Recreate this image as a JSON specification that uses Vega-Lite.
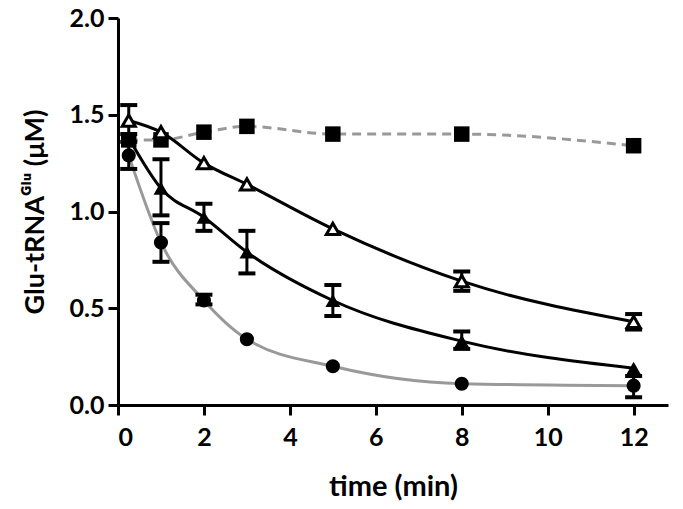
{
  "$schema": "https://vega.github.io/schema/vega-lite/v6.json",
  "width": 550,
  "height": 387,
  "autosize": {"type": "none"},
  "padding": {"left": 118, "top": 18, "right": 15, "bottom": 104},
  "config": {
    "view": {"stroke": null},
    "font": "Lato",
    "axis": {
      "domainColor": "black", "domainWidth": 3, "tickColor": "black", "tickWidth": 3, "tickSize": 10,
      "labelFont": "Lato", "labelFontWeight": "bold", "labelFontSize": 25, "labelColor": "black",
      "titleFont": "Lato", "titleFontWeight": "bold", "titleFontSize": 28, "titleColor": "black",
      "grid": false
    }
  },
  "data": {
    "values": [
      {"s": "sq", "t": 0.25, "v": 1.37},
      {"s": "sq", "t": 1, "v": 1.37},
      {"s": "sq", "t": 2, "v": 1.41},
      {"s": "sq", "t": 3, "v": 1.44},
      {"s": "sq", "t": 5, "v": 1.40},
      {"s": "sq", "t": 8, "v": 1.40},
      {"s": "sq", "t": 12, "v": 1.34},
      {"s": "open", "t": 0.25, "v": 1.47, "lo": 1.40, "hi": 1.55},
      {"s": "open", "t": 1, "v": 1.41},
      {"s": "open", "t": 2, "v": 1.25},
      {"s": "open", "t": 3, "v": 1.14},
      {"s": "open", "t": 5, "v": 0.91},
      {"s": "open", "t": 8, "v": 0.64, "lo": 0.59, "hi": 0.69},
      {"s": "open", "t": 12, "v": 0.43, "lo": 0.39, "hi": 0.47},
      {"s": "tri", "t": 0.25, "v": 1.38},
      {"s": "tri", "t": 1, "v": 1.12, "lo": 0.98, "hi": 1.27},
      {"s": "tri", "t": 2, "v": 0.97, "lo": 0.90, "hi": 1.04},
      {"s": "tri", "t": 3, "v": 0.79, "lo": 0.68, "hi": 0.90},
      {"s": "tri", "t": 5, "v": 0.54, "lo": 0.46, "hi": 0.62},
      {"s": "tri", "t": 8, "v": 0.33, "lo": 0.29, "hi": 0.38},
      {"s": "tri", "t": 12, "v": 0.19},
      {"s": "circ", "t": 0.25, "v": 1.29, "lo": 1.22, "hi": 1.36},
      {"s": "circ", "t": 1, "v": 0.84, "lo": 0.74, "hi": 0.94},
      {"s": "circ", "t": 2, "v": 0.54, "lo": 0.52, "hi": 0.57},
      {"s": "circ", "t": 3, "v": 0.34},
      {"s": "circ", "t": 5, "v": 0.20},
      {"s": "circ", "t": 8, "v": 0.11},
      {"s": "circ", "t": 12, "v": 0.10, "lo": 0.04, "hi": 0.15}
    ]
  },
  "encoding": {
    "x": {"field": "t", "type": "quantitative", "scale": {"domain": [0, 12.8], "nice": false},
      "axis": {"values": [0, 2, 4, 6, 8, 10, 12], "title": "time (min)", "titleFontSize": 29, "labelPadding": 10, "titlePadding": 22}},
    "y": {"field": "v", "type": "quantitative", "scale": {"domain": [0, 2], "nice": false},
      "axis": {"values": [0, 0.5, 1, 1.5, 2], "format": ".1f", "title": "Glu-tRNAᴳˡᵘ (μM)", "titleFontSize": 27, "labelPadding": 4, "titlePadding": 20}}
  },
  "layer": [
    {"transform": [{"filter": "datum.s == 'sq'"}],
     "mark": {"type": "line", "interpolate": "monotone", "color": "#999999", "strokeWidth": 3, "strokeDash": [9, 6]}},
    {"transform": [{"filter": "datum.s == 'circ'"}],
     "mark": {"type": "line", "interpolate": "monotone", "color": "#999999", "strokeWidth": 3}},
    {"transform": [{"filter": "datum.s == 'open'"}],
     "mark": {"type": "line", "interpolate": "monotone", "color": "black", "strokeWidth": 3}},
    {"transform": [{"filter": "datum.s == 'tri'"}],
     "mark": {"type": "line", "interpolate": "monotone", "color": "black", "strokeWidth": 3}},
    {"transform": [{"filter": "isValid(datum.lo)"}],
     "mark": {"type": "errorbar", "ticks": {"size": 17, "thickness": 4, "color": "black", "opacity": 1}, "rule": {"strokeWidth": 3, "color": "black", "opacity": 1}},
     "encoding": {"y": {"field": "lo", "type": "quantitative"}, "y2": {"field": "hi"}}},
    {"transform": [{"filter": "datum.s != 'open'"}],
     "mark": {"type": "point", "filled": true, "color": "black", "opacity": 1},
     "encoding": {
       "shape": {"field": "s", "type": "nominal", "scale": {"domain": ["sq", "tri", "circ"], "range": ["square", "triangle-up", "circle"]}, "legend": null},
       "size": {"field": "s", "type": "nominal", "scale": {"domain": ["sq", "tri", "circ"], "range": [240, 200, 170]}, "legend": null}
     }},
    {"transform": [{"filter": "datum.s == 'open'"}],
     "mark": {"type": "point", "shape": "triangle-up", "filled": false, "fill": "white", "fillOpacity": 1, "stroke": "black", "strokeWidth": 3, "size": 170, "opacity": 1}}
  ]
}
